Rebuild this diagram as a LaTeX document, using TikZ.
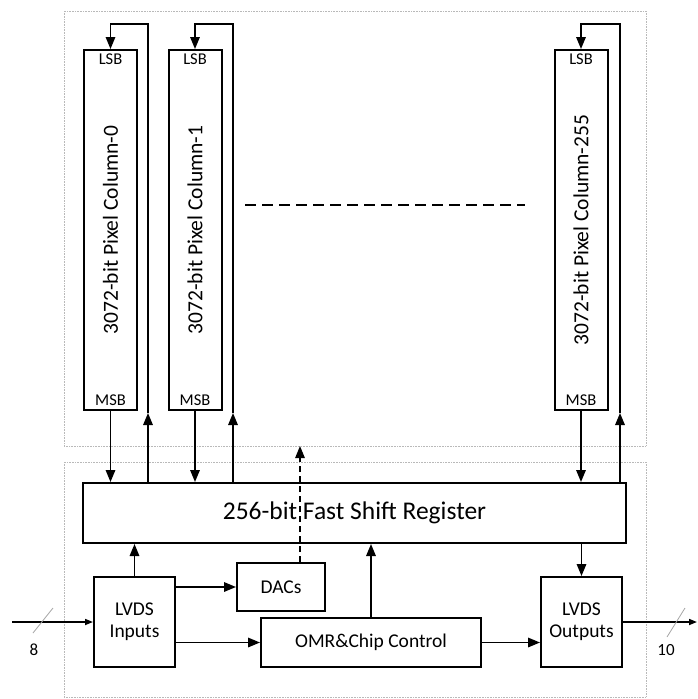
\documentclass[tikz,border=0pt]{standalone}
\usepackage{fontspec}
\setmainfont{Carlito}
\usetikzlibrary{positioning, arrows.meta}

\begin{document}
\begin{tikzpicture}[
    x=1pt, y=-1pt, >={Triangle[length=12pt,width=9.5pt]},
    block/.style={draw, line width=2pt, inner sep=0pt, align=center, font=\fontsize{19.5}{22}\selectfont},
    column/.style={block, minimum width=53pt, minimum height=360pt},
    link/.style={line width=1.6pt},
    region/.style={draw=gray!55, densely dotted, line width=0.6pt},
    tag/.style={font=\fontsize{16.5}{18}\selectfont, inner sep=0pt}
]
    \useasboundingbox (0,0) rectangle (697,699);

    % dotted areas
    \draw[region] (64,11) rectangle (646,446);
    \draw[region] (64,462) rectangle (646,697);

    \node[block, minimum width=543pt, minimum height=60pt, font=\fontsize{25.5}{28}\selectfont] (reg) at (354.5,513) {256-bit Fast Shift Register};

    % pixel columns
    \foreach \n/\x/\r in {0/110.5/148, 1/195/233, 255/581/620} {
        \node[column] (col\n) at (\x,230) {};
        \node[rotate=90, font=\fontsize{21.5}{24}\selectfont] (txt\n) at (col\n.center) {3072-bit Pixel Column-\n};
        \node[tag, below=5pt of col\n.north] (lsb\n) {LSB};
        \node[tag, above=5pt of col\n.south] (msb\n) {MSB};
        \coordinate (top\n) at (\r,24);
        \coordinate (mid\n) at (\r,413);
        \draw[link,->] (col\n.south) -- (col\n.south |- reg.north);
        \draw[link,->] (reg.north -| mid\n) -- (mid\n);
        \draw[link,->] (mid\n) -- (top\n) -| (col\n.north);
    }
    \draw[line width=1.6pt, dash pattern=on 11pt off 6pt] (245,205) -- (525,205);

    % control blocks
    \node[block, minimum width=81pt, minimum height=90pt] (inp) at (134.5,622) {LVDS\\Inputs};
    \node[block, minimum width=88pt, minimum height=48pt] (dac) at (281,587) {DACs};
    \node[block, minimum width=220pt, minimum height=49pt] (omr) at (371,642.5) {OMR\&Chip Control};
    \node[block, minimum width=81pt, minimum height=90pt] (outp) at (581.5,622) {LVDS\\Outputs};

    \draw[link,->] (inp.north) -- (inp.north |- reg.south);
    \draw[link,->] (inp.east |- dac) -- (dac.west);
    \draw[link,->] (inp.east |- omr) -- (omr.west);
    \draw[link,->] (omr.north) -- (omr.north |- reg.south);
    \draw[link,->] (reg.south -| outp) -- (outp.north);
    \draw[link,->] (omr.east) -- (outp.west |- omr.east);
    \coordinate (dacup) at (300,446);
    \draw[line width=1.2pt, dash pattern=on 6pt off 4pt, ->] (dac.north -| dacup) -- (dacup);

    % external buses
    \coordinate (in) at (12,622);
    \coordinate (out) at (697,622);
    \draw[link, -{Triangle[length=8pt,width=6pt]}] (in) -- (inp.west);
    \draw[link, -{Triangle[length=8pt,width=6pt]}] (outp.east) -- (out);
    \draw[gray!70, line width=0.8pt] (33,633) -- (53,608);
    \draw[gray!70, line width=0.8pt] (667,637) -- (685,608);
    \node[font=\fontsize{17}{19}\selectfont] (nin) at (34,650) {8};
    \node[font=\fontsize{17}{19}\selectfont] (nout) at (666,650) {10};
\end{tikzpicture}
\end{document}
